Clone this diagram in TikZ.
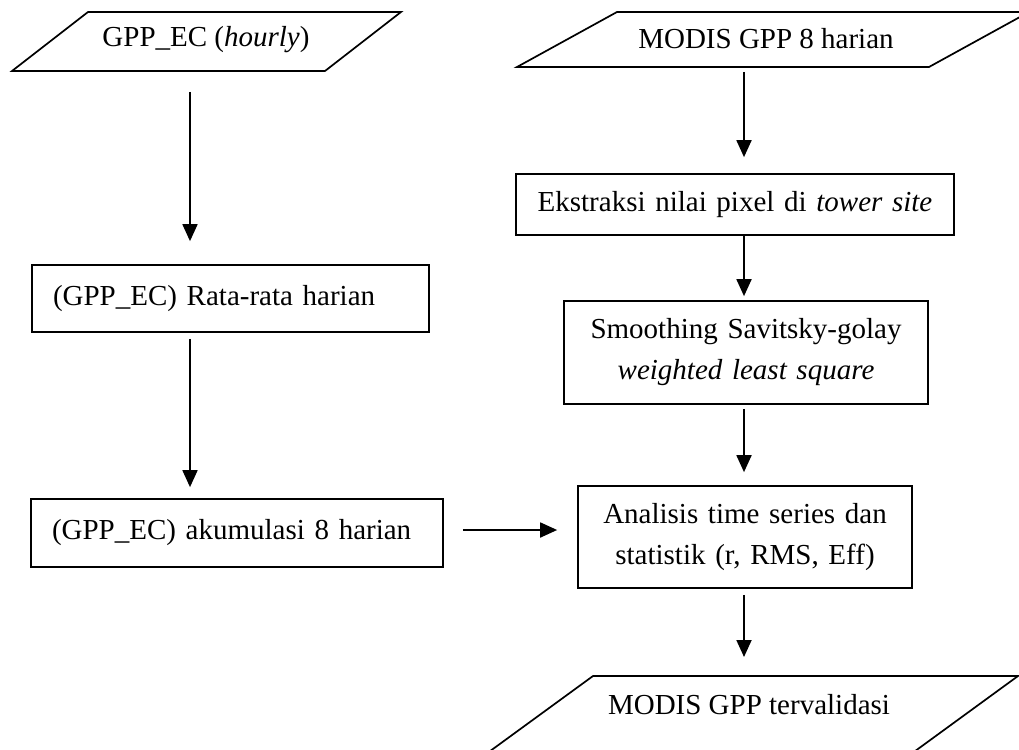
\documentclass[tikz,border=0pt]{standalone}
\usepackage{fontspec}
\setmainfont{Liberation Serif}
\usetikzlibrary{arrows.meta}
\tikzset{
  shp/.style={draw=black, line width=1.7pt, line join=miter},
  boxl/.style={draw=black, line width=1.7pt, align=left, inner xsep=21pt, inner ysep=0pt, font=\fontsize{29}{41}\selectfont},
  boxc/.style={draw=black, line width=1.7pt, align=center, inner sep=0pt, font=\fontsize{29}{41}\selectfont},
  txt/.style={inner sep=0pt, font=\fontsize{29}{41}\selectfont},
  arr/.style={draw=black, line width=1.8pt, -{Triangle[width=15pt,length=17pt]}}
}
\begin{document}
\begin{tikzpicture}[x=1pt,y=-1pt]
\useasboundingbox (0,0) rectangle (1019,749);
\clip (0,0) rectangle (1019,749);
\fill[white] (0,0) rectangle (1019,749);

% column guides for connectors
\coordinate (lx) at (190,0);
\coordinate (rx) at (744,0);
\coordinate (hy) at (0,530);

% input parallelograms
\draw[shp] (88,12) -- (401,12) -- (325,71) -- (12,71) -- cycle;
\coordinate (in1b) at (190,71);
\node[txt] (in1) at (206,40) {GPP\_EC (\textit{hourly})};

\draw[shp] (617,12) -- (1029,12) -- (929,67) -- (517,67) -- cycle;
\coordinate (in2b) at (744,67);
\node[txt] (in2) at (766,39) {MODIS GPP 8 harian};

% left column
\node[boxl, text width=355pt, minimum height=67pt] (rata) at (230.5,298.5) {(GPP\_EC) Rata-rata harian};
\node[boxl, text width=370pt, minimum height=68pt] (akum) at (237,533) {(GPP\_EC) akumulasi 8 harian};

% right column
\node[boxc, text width=438pt, minimum height=61pt] (ekst) at (735,204.5) {Ekstraksi nilai pixel di \textit{tower site}};
\node[boxc, text width=364pt, minimum height=103pt] (smth) at (746,352.5) {Smoothing Savitsky-golay\\\textit{weighted least square}};
\node[boxc, text width=334pt, minimum height=102pt] (anal) at (745,537) {Analisis time series dan\\statistik (r, RMS, Eff)};

% output parallelogram
\draw[shp] (593,676) -- (1018,676) -- (848,800) -- (423,800) -- cycle;
\coordinate (outt) at (744,676);
\node[txt] (out) at (749,705) {MODIS GPP tervalidasi};

% connectors
\draw[arr, shorten <=21pt, shorten >=23pt] (in1b) -- (rata.north -| lx);
\draw[arr, shorten <=6pt, shorten >=11pt] (rata.south -| lx) -- (akum.north -| lx);
\draw[arr, shorten <=5pt, shorten >=16pt] (in2b) -- (ekst.north -| rx);
\draw[arr, shorten >=4pt] (ekst.south -| rx) -- (smth.north -| rx);
\draw[arr, shorten <=4pt, shorten >=13pt] (smth.south -| rx) -- (anal.north -| rx);
\draw[arr, shorten <=6pt, shorten >=19pt] (anal.south -| rx) -- (outt);
\draw[arr, shorten <=19pt, shorten >=20pt] (akum.east |- hy) -- (anal.west |- hy);
\end{tikzpicture}
\end{document}
